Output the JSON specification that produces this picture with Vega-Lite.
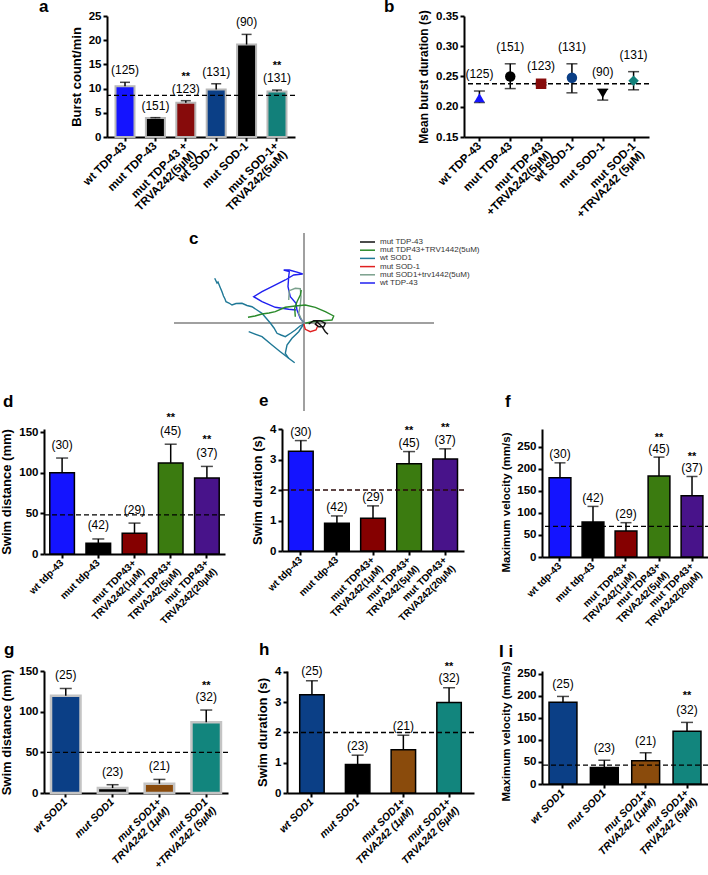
{
"$schema":"https://vega.github.io/schema/vega-lite/v6.json",
"background":"white","padding":{"left":0,"top":-2,"right":0,"bottom":0},
"spacing":0,
"resolve":{"scale":{"color":"independent","shape":"independent"},"legend":{"color":"independent","shape":"independent"}},
"config":{"view":{"stroke":null},"font":"Liberation Sans",
 "axis":{"domainColor":"#000","domainWidth":2,"tickColor":"#000","tickWidth":2,"tickSize":4,"labelColor":"#000","labelFont":"Liberation Sans","labelFontWeight":"bold","labelFontSize":11.5,"titleFont":"Liberation Sans","titleFontWeight":"bold","titleFontSize":13,"titleColor":"#000","grid":false,"labelPadding":2,"titlePadding":5},
 "axisX":{"labelAngle":-45,"labelAlign":"right","labelBaseline":"middle","labelPadding":3,"labelLineHeight":12},
 "title":{"anchor":"start","frame":"group","font":"Liberation Sans","fontSize":17,"fontWeight":"bold","color":"#000","offset":0,"baseline":"alphabetic"}},
"datasets":{
"a":[{"g":"wt TDP-43","v":10.5,"hi":11.3,"n":"(125)","s":""},{"g":"mut TDP-43","v":3.9,"hi":4.0,"n":"(151)","s":""},{"g":"mut TDP-43 +|TRVA242(5µM)","v":7.1,"hi":7.5,"n":"(123)","s":"**"},{"g":"wt SOD-1","v":9.8,"hi":11.0,"n":"(131)","s":""},{"g":"mut SOD-1","v":19.1,"hi":21.2,"n":"(90)","s":""},{"g":"mut SOD-1+|TRVA242(5uM)","v":9.4,"hi":9.7,"n":"(131)","s":"**"}],
"b":[{"g":"wt TDP-43","v":0.215,"lo":0.207,"hi":0.226,"n":"(125)"},{"g":"mut TDP-43","v":0.250,"lo":0.230,"hi":0.271,"n":"(151)"},{"g":"mut TDP-43|+TRVA242(5µM)","v":0.238,"lo":0.236,"hi":0.240,"n":"(123)"},{"g":"wt SOD-1","v":0.248,"lo":0.223,"hi":0.271,"n":"(131)"},{"g":"mut SOD-1","v":0.222,"lo":0.211,"hi":0.229,"n":"(90)"},{"g":"mut SOD-1|+TRVA242 (5µM)","v":0.243,"lo":0.228,"hi":0.258,"n":"(131)"}],
"c":[
{"grp":"wt TDP-43","seg":"b1","i":0,"x":0,"y":0},{"grp":"wt TDP-43","seg":"b1","i":1,"x":-3.7,"y":4.7},{"grp":"wt TDP-43","seg":"b1","i":2,"x":-7,"y":13},{"grp":"wt TDP-43","seg":"b1","i":3,"x":-8,"y":19.7},{"grp":"wt TDP-43","seg":"b1","i":4,"x":-13.7,"y":26.3},{"grp":"wt TDP-43","seg":"b1","i":5,"x":-16,"y":36.3},{"grp":"wt TDP-43","seg":"b1","i":6,"x":-15.3,"y":46.3},{"grp":"wt TDP-43","seg":"b1","i":7,"x":-14.7,"y":51.3},{"grp":"wt TDP-43","seg":"b1","i":8,"x":-20.3,"y":53},{"grp":"wt TDP-43","seg":"b1","i":9,"x":-14.7,"y":53},{"grp":"wt TDP-43","seg":"b1","i":10,"x":-5.3,"y":50.3},{"grp":"wt TDP-43","seg":"b1","i":11,"x":-1.3,"y":49},{"grp":"wt TDP-43","seg":"b1","i":12,"x":-10.3,"y":48},{"grp":"wt TDP-43","seg":"b1","i":13,"x":-18.7,"y":43},{"grp":"wt TDP-43","seg":"b1","i":14,"x":-32,"y":36.3},{"grp":"wt TDP-43","seg":"b1","i":15,"x":-42,"y":31.3},{"grp":"wt TDP-43","seg":"b1","i":16,"x":-50.3,"y":26.3},{"grp":"wt TDP-43","seg":"b1","i":17,"x":-42,"y":21.3},{"grp":"wt TDP-43","seg":"b1","i":18,"x":-28.7,"y":15.7},{"grp":"wt TDP-43","seg":"b1","i":19,"x":-15.3,"y":13.7},{"grp":"wt TDP-43","seg":"b1","i":20,"x":-8,"y":13},
{"grp":"wt SOD1","seg":"t1","i":0,"x":-89.3,"y":44.7},{"grp":"wt SOD1","seg":"t1","i":1,"x":-87,"y":40},{"grp":"wt SOD1","seg":"t1","i":2,"x":-86,"y":41},{"grp":"wt SOD1","seg":"t1","i":3,"x":-84,"y":36},{"grp":"wt SOD1","seg":"t1","i":4,"x":-82,"y":31.3},{"grp":"wt SOD1","seg":"t1","i":5,"x":-80.5,"y":27},{"grp":"wt SOD1","seg":"t1","i":6,"x":-79,"y":24},{"grp":"wt SOD1","seg":"t1","i":7,"x":-78,"y":21.3},{"grp":"wt SOD1","seg":"t1","i":8,"x":-75,"y":20},{"grp":"wt SOD1","seg":"t1","i":9,"x":-72,"y":18},{"grp":"wt SOD1","seg":"t1","i":10,"x":-68,"y":19.5},{"grp":"wt SOD1","seg":"t1","i":11,"x":-62,"y":19.7},{"grp":"wt SOD1","seg":"t1","i":12,"x":-57,"y":17.5},{"grp":"wt SOD1","seg":"t1","i":13,"x":-52,"y":16.3},{"grp":"wt SOD1","seg":"t1","i":14,"x":-47,"y":13},{"grp":"wt SOD1","seg":"t1","i":15,"x":-42,"y":9.7},{"grp":"wt SOD1","seg":"t1","i":16,"x":-38,"y":5},{"grp":"wt SOD1","seg":"t1","i":17,"x":-33.7,"y":0},{"grp":"wt SOD1","seg":"t1","i":18,"x":-30,"y":-5},{"grp":"wt SOD1","seg":"t1","i":19,"x":-27,"y":-10.3},{"grp":"wt SOD1","seg":"t1","i":20,"x":-23,"y":-12},{"grp":"wt SOD1","seg":"t1","i":21,"x":-18.7,"y":-13.7},{"grp":"wt SOD1","seg":"t1","i":22,"x":-13,"y":-10},{"grp":"wt SOD1","seg":"t1","i":23,"x":-8.7,"y":-7},{"grp":"wt SOD1","seg":"t1","i":24,"x":-4,"y":-3},{"grp":"wt SOD1","seg":"t1","i":25,"x":-0.3,"y":-1},
{"grp":"wt SOD1","seg":"t2","i":0,"x":-0.3,"y":-1},{"grp":"wt SOD1","seg":"t2","i":1,"x":-5.3,"y":-8.7},{"grp":"wt SOD1","seg":"t2","i":2,"x":-12,"y":-15.3},{"grp":"wt SOD1","seg":"t2","i":3,"x":-17,"y":-22},{"grp":"wt SOD1","seg":"t2","i":4,"x":-18.7,"y":-30.3},{"grp":"wt SOD1","seg":"t2","i":5,"x":-15.3,"y":-35.3},{"grp":"wt SOD1","seg":"t2","i":6,"x":-9.3,"y":-39.7},
{"grp":"wt SOD1","seg":"t3","i":0,"x":-55.3,"y":-8.7},{"grp":"wt SOD1","seg":"t3","i":1,"x":-42,"y":-13.7},{"grp":"wt SOD1","seg":"t3","i":2,"x":-32,"y":-22},{"grp":"wt SOD1","seg":"t3","i":3,"x":-23.7,"y":-28.7},{"grp":"wt SOD1","seg":"t3","i":4,"x":-15.3,"y":-35.3},
{"grp":"mut SOD1+trv1442(5uM)","seg":"s1","i":0,"x":-15.3,"y":23},{"grp":"mut SOD1+trv1442(5uM)","seg":"s1","i":1,"x":-14.7,"y":32.3},{"grp":"mut SOD1+trv1442(5uM)","seg":"s1","i":2,"x":-8.7,"y":34.7},{"grp":"mut SOD1+trv1442(5uM)","seg":"s1","i":3,"x":-3.7,"y":34.3},{"grp":"mut SOD1+trv1442(5uM)","seg":"s1","i":4,"x":-3,"y":26.3},{"grp":"mut SOD1+trv1442(5uM)","seg":"s1","i":5,"x":-3.7,"y":18},{"grp":"mut SOD1+trv1442(5uM)","seg":"s1","i":6,"x":-5.3,"y":9.7},{"grp":"mut SOD1+trv1442(5uM)","seg":"s1","i":7,"x":-2,"y":2.3},{"grp":"mut SOD1+trv1442(5uM)","seg":"s1","i":8,"x":0,"y":0},
{"grp":"mut TDP43+TRV1442(5uM)","seg":"g1","i":0,"x":-56,"y":5.7},{"grp":"mut TDP43+TRV1442(5uM)","seg":"g1","i":1,"x":-49,"y":7},{"grp":"mut TDP43+TRV1442(5uM)","seg":"g1","i":2,"x":-42,"y":9},{"grp":"mut TDP43+TRV1442(5uM)","seg":"g1","i":3,"x":-35,"y":10},{"grp":"mut TDP43+TRV1442(5uM)","seg":"g1","i":4,"x":-28.7,"y":11.3},{"grp":"mut TDP43+TRV1442(5uM)","seg":"g1","i":5,"x":-18.7,"y":15.7},{"grp":"mut TDP43+TRV1442(5uM)","seg":"g1","i":6,"x":-8.7,"y":17},{"grp":"mut TDP43+TRV1442(5uM)","seg":"g1","i":7,"x":1.3,"y":18},{"grp":"mut TDP43+TRV1442(5uM)","seg":"g1","i":8,"x":11.3,"y":15.7},{"grp":"mut TDP43+TRV1442(5uM)","seg":"g1","i":9,"x":21.3,"y":11.3},{"grp":"mut TDP43+TRV1442(5uM)","seg":"g1","i":10,"x":29.7,"y":7},{"grp":"mut TDP43+TRV1442(5uM)","seg":"g1","i":11,"x":28,"y":3},{"grp":"mut TDP43+TRV1442(5uM)","seg":"g1","i":12,"x":18,"y":2.3},{"grp":"mut TDP43+TRV1442(5uM)","seg":"g1","i":13,"x":8,"y":1.3},{"grp":"mut TDP43+TRV1442(5uM)","seg":"g1","i":14,"x":1.3,"y":-0.3},
{"grp":"mut TDP43+TRV1442(5uM)","seg":"g2","i":0,"x":-8.7,"y":6.3},{"grp":"mut TDP43+TRV1442(5uM)","seg":"g2","i":1,"x":-9.3,"y":14.7},{"grp":"mut TDP43+TRV1442(5uM)","seg":"g2","i":2,"x":-7,"y":21.3},{"grp":"mut TDP43+TRV1442(5uM)","seg":"g2","i":3,"x":-3.7,"y":28},{"grp":"mut TDP43+TRV1442(5uM)","seg":"g2","i":4,"x":-2.7,"y":33},
{"grp":"mut SOD-1","seg":"r1","i":0,"x":-0.3,"y":-1},{"grp":"mut SOD-1","seg":"r1","i":1,"x":1.3,"y":-6.3},{"grp":"mut SOD-1","seg":"r1","i":2,"x":6.3,"y":-8.7},{"grp":"mut SOD-1","seg":"r1","i":3,"x":12,"y":-7},{"grp":"mut SOD-1","seg":"r1","i":4,"x":13.7,"y":-3},{"grp":"mut SOD-1","seg":"r1","i":5,"x":11.3,"y":-1},
{"grp":"mut TDP-43","seg":"k1","i":0,"x":4.7,"y":-1},{"grp":"mut TDP-43","seg":"k1","i":1,"x":9.7,"y":2.3},{"grp":"mut TDP-43","seg":"k1","i":2,"x":16.3,"y":2.3},{"grp":"mut TDP-43","seg":"k1","i":3,"x":21.3,"y":-0.3},{"grp":"mut TDP-43","seg":"k1","i":4,"x":19.7,"y":-3.7},{"grp":"mut TDP-43","seg":"k1","i":5,"x":14.7,"y":-3.7},{"grp":"mut TDP-43","seg":"k1","i":6,"x":11.3,"y":-1},{"grp":"mut TDP-43","seg":"k1","i":7,"x":13,"y":1.3},{"grp":"mut TDP-43","seg":"k1","i":8,"x":18,"y":-3.7},{"grp":"mut TDP-43","seg":"k1","i":9,"x":21.3,"y":-8.7},{"grp":"mut TDP-43","seg":"k1","i":10,"x":24,"y":-11.3}],
"d":[{"g":"wt tdp-43","v":100,"hi":118,"n":"(30)","s":""},{"g":"mut tdp-43","v":13.2,"hi":18.5,"n":"(42)","s":""},{"g":"mut TDP43+|TRVA242(1µM)","v":25.5,"hi":38,"n":"(29)","s":""},{"g":"mut TDP43+|TRVA242(5µM)","v":112,"hi":135,"n":"(45)","s":"**"},{"g":"mut TDP43+|TRVA242(20µM)","v":93.3,"hi":107.7,"n":"(37)","s":"**"}],
"e":[{"g":"wt tdp-43","v":3.27,"hi":3.62,"n":"(30)","s":""},{"g":"mut tdp-43","v":0.91,"hi":1.15,"n":"(42)","s":""},{"g":"mut TDP43+|TRVA242(1µM)","v":1.07,"hi":1.48,"n":"(29)","s":""},{"g":"mut TDP43+|TRVA242(5µM)","v":2.86,"hi":3.26,"n":"(45)","s":"**"},{"g":"mut TDP43+|TRVA242(20µM)","v":3.02,"hi":3.35,"n":"(37)","s":"**"}],
"f":[{"g":"wt tdp-43","v":180,"hi":214,"n":"(30)","s":""},{"g":"mut tdp-43","v":79.5,"hi":115,"n":"(42)","s":""},{"g":"mut TDP43+|TRVA242(1µM)","v":59,"hi":78,"n":"(29)","s":""},{"g":"mut TDP43+|TRVA242(5µM)","v":184,"hi":227,"n":"(45)","s":"**"},{"g":"mut TDP43+|TRVA242(20µM)","v":139,"hi":183,"n":"(37)","s":"**"}],
"g":[{"g":"wt SOD1","v":119.5,"hi":128.5,"n":"(25)","s":""},{"g":"mut SOD1","v":6.1,"hi":10.2,"n":"(23)","s":""},{"g":"mut SOD1+|TRVA242 (1µM)","v":11.4,"hi":16.7,"n":"(21)","s":""},{"g":"mut SOD1|+TRVA242 (5µM)","v":86.9,"hi":102,"n":"(32)","s":"**"}],
"h":[{"g":"wt SOD1","v":3.25,"hi":3.71,"n":"(25)","s":""},{"g":"mut SOD1","v":0.94,"hi":1.25,"n":"(23)","s":""},{"g":"mut SOD1+|TRVA242 (1µM)","v":1.43,"hi":1.91,"n":"(21)","s":""},{"g":"mut SOD1+|TRVA242 (5µM)","v":2.99,"hi":3.48,"n":"(32)","s":"**"}],
"i":[{"g":"wt SOD1","v":186,"hi":199,"n":"(25)","s":""},{"g":"mut SOD1","v":37.5,"hi":54,"n":"(23)","s":""},{"g":"mut SOD1+|TRVA242 (1µM)","v":52.7,"hi":71,"n":"(21)","s":""},{"g":"mut SOD1+|TRVA242 (5µM)","v":120,"hi":140,"n":"(32)","s":"**"}]
},
"vconcat":[
{"hconcat":[
 {"width":105,"height":1,"data":{"values":[]},"mark":"point","title":{"text":"a","dx":37,"dy":4}},
 {"width":188,"height":121,"data":{"name":"a"},"layer":[
  {"mark":{"type":"bar","stroke":"#b8b8b8","strokeWidth":2},"encoding":{"x":{"field":"g","type":"nominal","sort":null,"title":null,"scale":{"paddingInner":0.375,"paddingOuter":0.28},"axis":{"labelExpr":"split(datum.label,'|')"}},"y":{"field":"v","type":"quantitative","title":"Burst count/min","scale":{"domain":[0,25],"nice":false},"axis":{"values":[0,5,10,15,20,25]}},"color":{"field":"g","type":"nominal","sort":null,"scale":{"range":["#1414ff","#000000","#870b0b","#0b3f86","#000000","#12807a"]},"legend":null}}},
  {"mark":{"type":"rule","color":"#000","strokeWidth":1.5},"encoding":{"x":{"field":"g","type":"nominal","sort":null,"title":null,"scale":{"paddingInner":0.375,"paddingOuter":0.28},"axis":{"labelExpr":"split(datum.label,'|')"}},"y":{"field":"v","type":"quantitative","title":"Burst count/min","scale":{"domain":[0,25],"nice":false},"axis":{"values":[0,5,10,15,20,25]}},"y2":{"field":"hi"}}},
  {"mark":{"type":"tick","color":"#000","thickness":1.5,"size":10},"encoding":{"x":{"field":"g","type":"nominal","sort":null,"title":null,"scale":{"paddingInner":0.375,"paddingOuter":0.28},"axis":{"labelExpr":"split(datum.label,'|')"}},"y":{"field":"hi","type":"quantitative","title":"Burst count/min","scale":{"domain":[0,25],"nice":false},"axis":{"values":[0,5,10,15,20,25]}}}},
  {"mark":{"type":"text","dy":-12,"fontSize":12,"color":"#000"},"encoding":{"x":{"field":"g","type":"nominal","sort":null,"title":null,"scale":{"paddingInner":0.375,"paddingOuter":0.28},"axis":{"labelExpr":"split(datum.label,'|')"}},"y":{"field":"hi","type":"quantitative","title":"Burst count/min","scale":{"domain":[0,25],"nice":false},"axis":{"values":[0,5,10,15,20,25]}},"text":{"field":"n"}}},
  {"mark":{"type":"text","dy":-24,"fontSize":11,"fontWeight":"bold","color":"#000"},"encoding":{"x":{"field":"g","type":"nominal","sort":null,"title":null,"scale":{"paddingInner":0.375,"paddingOuter":0.28},"axis":{"labelExpr":"split(datum.label,'|')"}},"y":{"field":"hi","type":"quantitative","title":"Burst count/min","scale":{"domain":[0,25],"nice":false},"axis":{"values":[0,5,10,15,20,25]}},"text":{"field":"s"}}},
  {"data":{"values":[{"ref":8.6}]},"mark":{"type":"rule","color":"#000","strokeDash":[5,3],"strokeWidth":1.3},"encoding":{"y":{"field":"ref","type":"quantitative","title":"Burst count/min","scale":{"domain":[0,25],"nice":false},"axis":{"values":[0,5,10,15,20,25]}}}}
 ]},
 {"width":169,"height":1,"data":{"values":[]},"mark":"point","title":{"text":"b","dx":89,"dy":4}},
 {"width":185,"height":121,"data":{"name":"b"},"layer":[
  {"mark":{"type":"rule","color":"#000","strokeWidth":1.5},"encoding":{"x":{"field":"g","type":"nominal","sort":null,"title":null,"scale":{"type":"point","padding":0.5},"axis":{"labelExpr":"split(datum.label,'|')"}},"y":{"field":"lo","type":"quantitative","title":"Mean  burst duration (s)","scale":{"domain":[0.15,0.35],"nice":false,"zero":false},"axis":{"values":[0.15,0.2,0.25,0.3,0.35],"format":".2f","titleFontSize":12}},"y2":{"field":"hi"}}},
  {"mark":{"type":"tick","color":"#000","thickness":1.5,"size":11},"encoding":{"x":{"field":"g","type":"nominal","sort":null,"title":null,"scale":{"type":"point","padding":0.5},"axis":{"labelExpr":"split(datum.label,'|')"}},"y":{"field":"hi","type":"quantitative","title":"Mean  burst duration (s)","scale":{"domain":[0.15,0.35],"nice":false,"zero":false},"axis":{"values":[0.15,0.2,0.25,0.3,0.35],"format":".2f","titleFontSize":12}}}},
  {"mark":{"type":"tick","color":"#000","thickness":1.5,"size":11},"encoding":{"x":{"field":"g","type":"nominal","sort":null,"title":null,"scale":{"type":"point","padding":0.5},"axis":{"labelExpr":"split(datum.label,'|')"}},"y":{"field":"lo","type":"quantitative","title":"Mean  burst duration (s)","scale":{"domain":[0.15,0.35],"nice":false,"zero":false},"axis":{"values":[0.15,0.2,0.25,0.3,0.35],"format":".2f","titleFontSize":12}}}},
  {"data":{"values":[{"ref":0.238}]},"mark":{"type":"rule","color":"#000","strokeDash":[5,3],"strokeWidth":1.3},"encoding":{"y":{"field":"ref","type":"quantitative","title":"Mean  burst duration (s)","scale":{"domain":[0.15,0.35],"nice":false,"zero":false},"axis":{"values":[0.15,0.2,0.25,0.3,0.35],"format":".2f","titleFontSize":12}}}},
  {"mark":{"type":"point","filled":true,"size":110,"opacity":1},"encoding":{"x":{"field":"g","type":"nominal","sort":null,"title":null,"scale":{"type":"point","padding":0.5},"axis":{"labelExpr":"split(datum.label,'|')"}},"y":{"field":"v","type":"quantitative","title":"Mean  burst duration (s)","scale":{"domain":[0.15,0.35],"nice":false,"zero":false},"axis":{"values":[0.15,0.2,0.25,0.3,0.35],"format":".2f","titleFontSize":12}},"color":{"field":"g","type":"nominal","sort":null,"scale":{"range":["#1414ff","#000000","#870b0b","#0b3f86","#000000","#12807a"]},"legend":null},"shape":{"field":"g","type":"nominal","sort":null,"scale":{"range":["triangle-up","circle","square","circle","triangle-down","diamond"]},"legend":null}}},
  {"mark":{"type":"text","dy":-17,"fontSize":12,"color":"#000"},"encoding":{"x":{"field":"g","type":"nominal","sort":null,"title":null,"scale":{"type":"point","padding":0.5},"axis":{"labelExpr":"split(datum.label,'|')"}},"y":{"field":"hi","type":"quantitative","title":"Mean  burst duration (s)","scale":{"domain":[0.15,0.35],"nice":false,"zero":false},"axis":{"values":[0.15,0.2,0.25,0.3,0.35],"format":".2f","titleFontSize":12}},"text":{"field":"n"}}}
 ]},
 {"width":1,"height":214,"data":{"values":[]},"mark":"point"}
],"spacing":0,"bounds":"flush","resolve":{"scale":{"color":"independent","shape":"independent"},"legend":{"color":"independent","shape":"independent"}}},

{"hconcat":[
 {"width":1,"height":1,"data":{"values":[]},"mark":"point","title":{"text":"d","dx":1,"dy":182}},
 {"width":171,"height":1,"data":{"values":[]},"mark":"point","title":{"text":"c","dx":186,"dy":19}},
 {"width":300,"height":178,"title":{"text":"e","dx":85,"dy":182},"layer":[
  {"data":{"values":[{}]},"mark":{"type":"rule","color":"#808080","strokeWidth":1.5},"encoding":{"x":{"datum":-130,"type":"quantitative","axis":null,"scale":{"domain":[-130,170],"nice":false,"zero":false}},"x2":{"datum":130},"y":{"datum":0,"type":"quantitative","axis":null,"scale":{"domain":[-88,90],"nice":false,"zero":false}}}},
  {"data":{"values":[{}]},"mark":{"type":"rule","color":"#808080","strokeWidth":1.5},"encoding":{"x":{"datum":0,"type":"quantitative","axis":null,"scale":{"domain":[-130,170],"nice":false,"zero":false}},"y":{"datum":-88,"type":"quantitative","axis":null,"scale":{"domain":[-88,90],"nice":false,"zero":false}},"y2":{"datum":90}}},
  {"data":{"name":"c"},"mark":{"type":"line","strokeWidth":1.4},"encoding":{"x":{"field":"x","type":"quantitative","scale":{"domain":[-130,170],"nice":false,"zero":false},"axis":null},"y":{"field":"y","type":"quantitative","scale":{"domain":[-88,90],"nice":false,"zero":false},"axis":null},"color":{"field":"grp","type":"nominal","scale":{"domain":["mut TDP-43","mut TDP43+TRV1442(5uM)","wt SOD1","mut SOD-1","mut SOD1+trv1442(5uM)","wt TDP-43"],"range":["#111111","#2a8a2a","#1f7896","#e02020","#7aa08c","#2020f0"]},"legend":{"orient":"none","legendX":189.5,"legendY":5,"title":null,"symbolType":"M-2.5,0H2.5","symbolSize":36,"symbolStrokeWidth":1.5,"labelFontSize":8,"labelFont":"Liberation Sans","labelColor":"#333","labelOffset":8.5,"rowPadding":0.2,"padding":0,"labelLimit":300}},"detail":{"field":"seg"},"order":{"field":"i","type":"quantitative"}}}
 ]},
 {"width":1,"height":1,"data":{"values":[]},"mark":"point","title":{"text":"f","dx":31,"dy":182}}
],"spacing":0,"bounds":"flush","resolve":{"scale":{"color":"independent","shape":"independent"},"legend":{"color":"independent","shape":"independent"}}},

{"hconcat":[
 {"width":42,"height":1,"data":{"values":[]},"mark":"point"},
 {"width":181,"height":125,"data":{"name":"d"},"layer":[
  {"mark":{"type":"bar","stroke":"#000","strokeWidth":1.5},"encoding":{"x":{"field":"g","type":"nominal","sort":null,"title":null,"scale":{"paddingInner":0.32,"paddingOuter":0.16},"axis":{"labelExpr":"split(datum.label,'|')","labelFontSize":10}},"y":{"field":"v","type":"quantitative","title":"Swim distance (mm)","scale":{"domain":[0,153.7],"nice":false},"axis":{"values":[0,50,100,150]}},"color":{"field":"g","type":"nominal","sort":null,"scale":{"range":["#1414ff","#000000","#850000","#3b7b10","#48138a"]},"legend":null}}},
  {"mark":{"type":"rule","color":"#000","strokeWidth":1.5},"encoding":{"x":{"field":"g","type":"nominal","sort":null,"title":null,"scale":{"paddingInner":0.32,"paddingOuter":0.16},"axis":{"labelExpr":"split(datum.label,'|')","labelFontSize":10}},"y":{"field":"v","type":"quantitative","title":"Swim distance (mm)","scale":{"domain":[0,153.7],"nice":false},"axis":{"values":[0,50,100,150]}},"y2":{"field":"hi"}}},
  {"mark":{"type":"tick","color":"#000","thickness":1.5,"size":12},"encoding":{"x":{"field":"g","type":"nominal","sort":null,"title":null,"scale":{"paddingInner":0.32,"paddingOuter":0.16},"axis":{"labelExpr":"split(datum.label,'|')","labelFontSize":10}},"y":{"field":"hi","type":"quantitative","title":"Swim distance (mm)","scale":{"domain":[0,153.7],"nice":false},"axis":{"values":[0,50,100,150]}}}},
  {"mark":{"type":"text","dy":-13.5,"fontSize":12,"color":"#000"},"encoding":{"x":{"field":"g","type":"nominal","sort":null,"title":null,"scale":{"paddingInner":0.32,"paddingOuter":0.16},"axis":{"labelExpr":"split(datum.label,'|')","labelFontSize":10}},"y":{"field":"hi","type":"quantitative","title":"Swim distance (mm)","scale":{"domain":[0,153.7],"nice":false},"axis":{"values":[0,50,100,150]}},"text":{"field":"n"}}},
  {"mark":{"type":"text","dy":-26,"fontSize":11,"fontWeight":"bold","color":"#000"},"encoding":{"x":{"field":"g","type":"nominal","sort":null,"title":null,"scale":{"paddingInner":0.32,"paddingOuter":0.16},"axis":{"labelExpr":"split(datum.label,'|')","labelFontSize":10}},"y":{"field":"hi","type":"quantitative","title":"Swim distance (mm)","scale":{"domain":[0,153.7],"nice":false},"axis":{"values":[0,50,100,150]}},"text":{"field":"s"}}},
  {"data":{"values":[{"ref":48}]},"mark":{"type":"rule","color":"#000","strokeDash":[5,3],"strokeWidth":1.3},"encoding":{"y":{"field":"ref","type":"quantitative","title":"Swim distance (mm)","scale":{"domain":[0,153.7],"nice":false},"axis":{"values":[0,50,100,150]}}}}
 ]},
 {"width":57,"height":1,"data":{"values":[]},"mark":"point"},
 {"width":182,"height":122,"data":{"name":"e"},"layer":[
  {"mark":{"type":"bar","stroke":"#000","strokeWidth":1.5},"encoding":{"x":{"field":"g","type":"nominal","sort":null,"title":null,"scale":{"paddingInner":0.316,"paddingOuter":0.18},"axis":{"labelExpr":"split(datum.label,'|')","labelFontSize":10}},"y":{"field":"v","type":"quantitative","title":"Swim duration (s)","scale":{"domain":[0,4],"nice":false},"axis":{"values":[0,1,2,3,4]}},"color":{"field":"g","type":"nominal","sort":null,"scale":{"range":["#1414ff","#000000","#850000","#3b7b10","#48138a"]},"legend":null}}},
  {"mark":{"type":"rule","color":"#000","strokeWidth":1.5},"encoding":{"x":{"field":"g","type":"nominal","sort":null,"title":null,"scale":{"paddingInner":0.316,"paddingOuter":0.18},"axis":{"labelExpr":"split(datum.label,'|')","labelFontSize":10}},"y":{"field":"v","type":"quantitative","title":"Swim duration (s)","scale":{"domain":[0,4],"nice":false},"axis":{"values":[0,1,2,3,4]}},"y2":{"field":"hi"}}},
  {"mark":{"type":"tick","color":"#000","thickness":1.5,"size":12},"encoding":{"x":{"field":"g","type":"nominal","sort":null,"title":null,"scale":{"paddingInner":0.316,"paddingOuter":0.18},"axis":{"labelExpr":"split(datum.label,'|')","labelFontSize":10}},"y":{"field":"hi","type":"quantitative","title":"Swim duration (s)","scale":{"domain":[0,4],"nice":false},"axis":{"values":[0,1,2,3,4]}}}},
  {"mark":{"type":"text","dy":-9,"fontSize":12,"color":"#000"},"encoding":{"x":{"field":"g","type":"nominal","sort":null,"title":null,"scale":{"paddingInner":0.316,"paddingOuter":0.18},"axis":{"labelExpr":"split(datum.label,'|')","labelFontSize":10}},"y":{"field":"hi","type":"quantitative","title":"Swim duration (s)","scale":{"domain":[0,4],"nice":false},"axis":{"values":[0,1,2,3,4]}},"text":{"field":"n"}}},
  {"mark":{"type":"text","dy":-21,"fontSize":11,"fontWeight":"bold","color":"#000"},"encoding":{"x":{"field":"g","type":"nominal","sort":null,"title":null,"scale":{"paddingInner":0.316,"paddingOuter":0.18},"axis":{"labelExpr":"split(datum.label,'|')","labelFontSize":10}},"y":{"field":"hi","type":"quantitative","title":"Swim duration (s)","scale":{"domain":[0,4],"nice":false},"axis":{"values":[0,1,2,3,4]}},"text":{"field":"s"}}},
  {"data":{"values":[{"ref":2.0}]},"mark":{"type":"rule","color":"#2a0a0a","strokeDash":[5,3],"strokeWidth":1.3},"encoding":{"y":{"field":"ref","type":"quantitative","title":"Swim duration (s)","scale":{"domain":[0,4],"nice":false},"axis":{"values":[0,1,2,3,4]}}}}
 ]},
 {"width":78,"height":1,"data":{"values":[]},"mark":"point"},
 {"width":168,"height":128,"data":{"name":"f"},"layer":[
  {"mark":{"type":"bar","stroke":"#000","strokeWidth":1.5},"encoding":{"x":{"field":"g","type":"nominal","sort":null,"title":null,"scale":{"paddingInner":0.34,"paddingOuter":0.215},"axis":{"labelExpr":"split(datum.label,'|')","labelFontSize":10}},"y":{"field":"v","type":"quantitative","title":"Maximum velocity (mm/s)","scale":{"domain":[0,290.9],"nice":false},"axis":{"values":[0,50,100,150,200,250],"titleFontSize":11.5,"titleY":73}},"color":{"field":"g","type":"nominal","sort":null,"scale":{"range":["#1414ff","#000000","#850000","#3b7b10","#48138a"]},"legend":null}}},
  {"mark":{"type":"rule","color":"#000","strokeWidth":1.5},"encoding":{"x":{"field":"g","type":"nominal","sort":null,"title":null,"scale":{"paddingInner":0.34,"paddingOuter":0.215},"axis":{"labelExpr":"split(datum.label,'|')","labelFontSize":10}},"y":{"field":"v","type":"quantitative","title":"Maximum velocity (mm/s)","scale":{"domain":[0,290.9],"nice":false},"axis":{"values":[0,50,100,150,200,250],"titleFontSize":11.5,"titleY":73}},"y2":{"field":"hi"}}},
  {"mark":{"type":"tick","color":"#000","thickness":1.5,"size":11},"encoding":{"x":{"field":"g","type":"nominal","sort":null,"title":null,"scale":{"paddingInner":0.34,"paddingOuter":0.215},"axis":{"labelExpr":"split(datum.label,'|')","labelFontSize":10}},"y":{"field":"hi","type":"quantitative","title":"Maximum velocity (mm/s)","scale":{"domain":[0,290.9],"nice":false},"axis":{"values":[0,50,100,150,200,250],"titleFontSize":11.5,"titleY":73}}}},
  {"mark":{"type":"text","dy":-8.5,"fontSize":12,"color":"#000"},"encoding":{"x":{"field":"g","type":"nominal","sort":null,"title":null,"scale":{"paddingInner":0.34,"paddingOuter":0.215},"axis":{"labelExpr":"split(datum.label,'|')","labelFontSize":10}},"y":{"field":"hi","type":"quantitative","title":"Maximum velocity (mm/s)","scale":{"domain":[0,290.9],"nice":false},"axis":{"values":[0,50,100,150,200,250],"titleFontSize":11.5,"titleY":73}},"text":{"field":"n"}}},
  {"mark":{"type":"text","dy":-19.5,"fontSize":11,"fontWeight":"bold","color":"#000"},"encoding":{"x":{"field":"g","type":"nominal","sort":null,"title":null,"scale":{"paddingInner":0.34,"paddingOuter":0.215},"axis":{"labelExpr":"split(datum.label,'|')","labelFontSize":10}},"y":{"field":"hi","type":"quantitative","title":"Maximum velocity (mm/s)","scale":{"domain":[0,290.9],"nice":false},"axis":{"values":[0,50,100,150,200,250],"titleFontSize":11.5,"titleY":73}},"text":{"field":"s"}}},
  {"data":{"values":[{"ref":69.5}]},"mark":{"type":"rule","color":"#000","strokeDash":[5,3],"strokeWidth":1.3},"encoding":{"y":{"field":"ref","type":"quantitative","title":"Maximum velocity (mm/s)","scale":{"domain":[0,290.9],"nice":false},"axis":{"values":[0,50,100,150,200,250],"titleFontSize":11.5,"titleY":73}}}}
 ]},
 {"width":1,"height":212,"data":{"values":[]},"mark":"point"}
],"spacing":0,"bounds":"flush","resolve":{"scale":{"color":"independent","shape":"independent"},"legend":{"color":"independent","shape":"independent"}}},

{"hconcat":[
 {"width":42,"height":1,"data":{"values":[]},"mark":"point","title":{"text":"g","dx":2,"dy":-8}},
 {"width":184,"height":122,"data":{"name":"g"},"layer":[
  {"mark":{"type":"bar","stroke":"#c4c4c4","strokeWidth":2.5},"encoding":{"x":{"field":"g","type":"nominal","sort":null,"title":null,"scale":{"paddingInner":0.37,"paddingOuter":0.15},"axis":{"labelExpr":"split(datum.label,'|')","labelFontSize":10.5,"labelFontStyle":"italic"}},"y":{"field":"v","type":"quantitative","title":"Swim distance (mm)","scale":{"domain":[0,150],"nice":false},"axis":{"values":[0,50,100,150]}},"color":{"field":"g","type":"nominal","sort":null,"scale":{"range":["#0b3f86","#000000","#8a4b0c","#12857d"]},"legend":null}}},
  {"mark":{"type":"rule","color":"#000","strokeWidth":1.5},"encoding":{"x":{"field":"g","type":"nominal","sort":null,"title":null,"scale":{"paddingInner":0.37,"paddingOuter":0.15},"axis":{"labelExpr":"split(datum.label,'|')","labelFontSize":10.5,"labelFontStyle":"italic"}},"y":{"field":"v","type":"quantitative","title":"Swim distance (mm)","scale":{"domain":[0,150],"nice":false},"axis":{"values":[0,50,100,150]}},"y2":{"field":"hi"}}},
  {"mark":{"type":"tick","color":"#000","thickness":1.5,"size":12},"encoding":{"x":{"field":"g","type":"nominal","sort":null,"title":null,"scale":{"paddingInner":0.37,"paddingOuter":0.15},"axis":{"labelExpr":"split(datum.label,'|')","labelFontSize":10.5,"labelFontStyle":"italic"}},"y":{"field":"hi","type":"quantitative","title":"Swim distance (mm)","scale":{"domain":[0,150],"nice":false},"axis":{"values":[0,50,100,150]}}}},
  {"mark":{"type":"text","dy":-13,"fontSize":12,"color":"#000"},"encoding":{"x":{"field":"g","type":"nominal","sort":null,"title":null,"scale":{"paddingInner":0.37,"paddingOuter":0.15},"axis":{"labelExpr":"split(datum.label,'|')","labelFontSize":10.5,"labelFontStyle":"italic"}},"y":{"field":"hi","type":"quantitative","title":"Swim distance (mm)","scale":{"domain":[0,150],"nice":false},"axis":{"values":[0,50,100,150]}},"text":{"field":"n"}}},
  {"mark":{"type":"text","dy":-24.5,"fontSize":11,"fontWeight":"bold","color":"#000"},"encoding":{"x":{"field":"g","type":"nominal","sort":null,"title":null,"scale":{"paddingInner":0.37,"paddingOuter":0.15},"axis":{"labelExpr":"split(datum.label,'|')","labelFontSize":10.5,"labelFontStyle":"italic"}},"y":{"field":"hi","type":"quantitative","title":"Swim distance (mm)","scale":{"domain":[0,150],"nice":false},"axis":{"values":[0,50,100,150]}},"text":{"field":"s"}}},
  {"data":{"values":[{"ref":50}]},"mark":{"type":"rule","color":"#000","strokeDash":[5,3],"strokeWidth":1.3},"encoding":{"y":{"field":"ref","type":"quantitative","title":"Swim distance (mm)","scale":{"domain":[0,150],"nice":false},"axis":{"values":[0,50,100,150]}}}}
 ]},
 {"width":59,"height":1,"data":{"values":[]},"mark":"point","title":{"text":"h","dx":31,"dy":-8}},
 {"width":187,"height":122,"data":{"name":"h"},"layer":[
  {"mark":{"type":"bar","stroke":"#000","strokeWidth":1.5},"encoding":{"x":{"field":"g","type":"nominal","sort":null,"title":null,"scale":{"paddingInner":0.465,"paddingOuter":0.278},"axis":{"labelExpr":"split(datum.label,'|')","labelFontSize":10.5,"labelFontStyle":"italic"}},"y":{"field":"v","type":"quantitative","title":"Swim duration (s)","scale":{"domain":[0,4.033],"nice":false},"axis":{"values":[0,1,2,3,4]}},"color":{"field":"g","type":"nominal","sort":null,"scale":{"range":["#0b3f86","#000000","#8a4b0c","#12857d"]},"legend":null}}},
  {"mark":{"type":"rule","color":"#000","strokeWidth":1.5},"encoding":{"x":{"field":"g","type":"nominal","sort":null,"title":null,"scale":{"paddingInner":0.465,"paddingOuter":0.278},"axis":{"labelExpr":"split(datum.label,'|')","labelFontSize":10.5,"labelFontStyle":"italic"}},"y":{"field":"v","type":"quantitative","title":"Swim duration (s)","scale":{"domain":[0,4.033],"nice":false},"axis":{"values":[0,1,2,3,4]}},"y2":{"field":"hi"}}},
  {"mark":{"type":"tick","color":"#000","thickness":1.5,"size":12},"encoding":{"x":{"field":"g","type":"nominal","sort":null,"title":null,"scale":{"paddingInner":0.465,"paddingOuter":0.278},"axis":{"labelExpr":"split(datum.label,'|')","labelFontSize":10.5,"labelFontStyle":"italic"}},"y":{"field":"hi","type":"quantitative","title":"Swim duration (s)","scale":{"domain":[0,4.033],"nice":false},"axis":{"values":[0,1,2,3,4]}}}},
  {"mark":{"type":"text","dy":-9.5,"fontSize":12,"color":"#000"},"encoding":{"x":{"field":"g","type":"nominal","sort":null,"title":null,"scale":{"paddingInner":0.465,"paddingOuter":0.278},"axis":{"labelExpr":"split(datum.label,'|')","labelFontSize":10.5,"labelFontStyle":"italic"}},"y":{"field":"hi","type":"quantitative","title":"Swim duration (s)","scale":{"domain":[0,4.033],"nice":false},"axis":{"values":[0,1,2,3,4]}},"text":{"field":"n"}}},
  {"mark":{"type":"text","dy":-21,"fontSize":11,"fontWeight":"bold","color":"#000"},"encoding":{"x":{"field":"g","type":"nominal","sort":null,"title":null,"scale":{"paddingInner":0.465,"paddingOuter":0.278},"axis":{"labelExpr":"split(datum.label,'|')","labelFontSize":10.5,"labelFontStyle":"italic"}},"y":{"field":"hi","type":"quantitative","title":"Swim duration (s)","scale":{"domain":[0,4.033],"nice":false},"axis":{"values":[0,1,2,3,4]}},"text":{"field":"s"}}},
  {"data":{"values":[{"ref":2.0}]},"mark":{"type":"rule","color":"#000","strokeDash":[5,3],"strokeWidth":1.3},"encoding":{"y":{"field":"ref","type":"quantitative","title":"Swim duration (s)","scale":{"domain":[0,4.033],"nice":false},"axis":{"values":[0,1,2,3,4]}}}}
 ]},
 {"width":68,"height":1,"data":{"values":[]},"mark":"point","title":{"text":"I i","dx":25,"dy":-6}},
 {"width":166,"height":113,"data":{"name":"i"},"layer":[
  {"mark":{"type":"bar","stroke":"#000","strokeWidth":1.5},"encoding":{"x":{"field":"g","type":"nominal","sort":null,"title":null,"scale":{"paddingInner":0.325,"paddingOuter":0.17},"axis":{"labelExpr":"split(datum.label,'|')","labelFontSize":10.5,"labelFontStyle":"italic"}},"y":{"field":"v","type":"quantitative","title":"Maximum velocity (mm/s)","scale":{"domain":[0,256.8],"nice":false},"axis":{"values":[0,50,100,150,200,250],"titleFontSize":11.5,"titleY":60}},"color":{"field":"g","type":"nominal","sort":null,"scale":{"range":["#0b3f86","#000000","#8a4b0c","#12857d"]},"legend":null}}},
  {"mark":{"type":"rule","color":"#000","strokeWidth":1.5},"encoding":{"x":{"field":"g","type":"nominal","sort":null,"title":null,"scale":{"paddingInner":0.325,"paddingOuter":0.17},"axis":{"labelExpr":"split(datum.label,'|')","labelFontSize":10.5,"labelFontStyle":"italic"}},"y":{"field":"v","type":"quantitative","title":"Maximum velocity (mm/s)","scale":{"domain":[0,256.8],"nice":false},"axis":{"values":[0,50,100,150,200,250],"titleFontSize":11.5,"titleY":60}},"y2":{"field":"hi"}}},
  {"mark":{"type":"tick","color":"#000","thickness":1.5,"size":12},"encoding":{"x":{"field":"g","type":"nominal","sort":null,"title":null,"scale":{"paddingInner":0.325,"paddingOuter":0.17},"axis":{"labelExpr":"split(datum.label,'|')","labelFontSize":10.5,"labelFontStyle":"italic"}},"y":{"field":"hi","type":"quantitative","title":"Maximum velocity (mm/s)","scale":{"domain":[0,256.8],"nice":false},"axis":{"values":[0,50,100,150,200,250],"titleFontSize":11.5,"titleY":60}}}},
  {"mark":{"type":"text","dy":-12,"fontSize":12,"color":"#000"},"encoding":{"x":{"field":"g","type":"nominal","sort":null,"title":null,"scale":{"paddingInner":0.325,"paddingOuter":0.17},"axis":{"labelExpr":"split(datum.label,'|')","labelFontSize":10.5,"labelFontStyle":"italic"}},"y":{"field":"hi","type":"quantitative","title":"Maximum velocity (mm/s)","scale":{"domain":[0,256.8],"nice":false},"axis":{"values":[0,50,100,150,200,250],"titleFontSize":11.5,"titleY":60}},"text":{"field":"n"}}},
  {"mark":{"type":"text","dy":-26,"fontSize":11,"fontWeight":"bold","color":"#000"},"encoding":{"x":{"field":"g","type":"nominal","sort":null,"title":null,"scale":{"paddingInner":0.325,"paddingOuter":0.17},"axis":{"labelExpr":"split(datum.label,'|')","labelFontSize":10.5,"labelFontStyle":"italic"}},"y":{"field":"hi","type":"quantitative","title":"Maximum velocity (mm/s)","scale":{"domain":[0,256.8],"nice":false},"axis":{"values":[0,50,100,150,200,250],"titleFontSize":11.5,"titleY":60}},"text":{"field":"s"}}},
  {"data":{"values":[{"ref":42.7}]},"mark":{"type":"rule","color":"#000","strokeDash":[5,3],"strokeWidth":1.3},"encoding":{"y":{"field":"ref","type":"quantitative","title":"Maximum velocity (mm/s)","scale":{"domain":[0,256.8],"nice":false},"axis":{"values":[0,50,100,150,200,250],"titleFontSize":11.5,"titleY":60}}}}
 ]}
],"spacing":0,"bounds":"flush","resolve":{"scale":{"color":"independent","shape":"independent"},"legend":{"color":"independent","shape":"independent"}}}
]
}
